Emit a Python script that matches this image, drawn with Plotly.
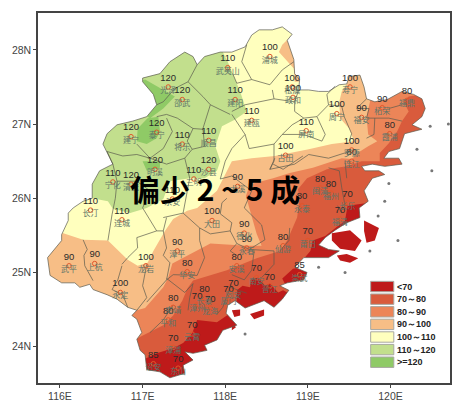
import plotly.graph_objects as go

# province outline, clockwise from the north-west corner
outline_lon = [117.00, 117.21, 117.33, 117.51, 117.61, 117.66, 117.75, 117.94, 118.08, 118.24, 118.32, 118.41, 118.57, 118.69, 118.81, 118.75, 118.83, 118.84, 118.90, 118.89, 119.01, 119.13, 119.25, 119.38, 119.47, 119.50, 119.63, 119.68, 119.71, 119.81, 119.96, 120.14, 120.28, 120.38, 120.42, 120.38, 120.26, 120.38, 120.17, 120.11, 119.98, 119.92, 120.10, 120.14, 119.93, 119.78, 119.65, 119.69, 119.86, 119.93, 119.78, 119.68, 119.73, 119.62, 119.63, 119.47, 119.33, 119.21, 119.13, 119.25, 119.38, 119.25, 119.05, 118.95, 118.84, 118.99, 118.95, 118.75, 118.66, 118.77, 118.69, 118.59, 118.47, 118.24, 118.12, 118.03, 118.01, 118.14, 117.97, 117.90, 117.75, 117.78, 117.61, 117.51, 117.61, 117.49, 117.51, 117.33, 117.21, 117.05, 117.03, 116.97, 116.93, 116.99, 116.93, 116.87, 116.93, 116.82, 116.69, 116.57, 116.40, 116.36, 116.24, 116.18, 116.02, 115.88, 115.85, 116.02, 116.02, 116.10, 116.10, 116.16, 116.28, 116.39, 116.39, 116.48, 116.64, 116.52, 116.57, 116.69, 116.88, 117.05, 117.17, 117.13, 117.00]
outline_lat = [27.62, 27.68, 27.84, 27.97, 27.91, 27.80, 27.91, 27.97, 27.97, 28.04, 28.20, 28.27, 28.27, 28.31, 28.21, 28.13, 27.87, 27.68, 27.60, 27.46, 27.46, 27.44, 27.44, 27.53, 27.54, 27.64, 27.66, 27.50, 27.34, 27.30, 27.33, 27.44, 27.40, 27.34, 27.21, 27.10, 26.99, 26.93, 26.87, 26.67, 26.63, 26.54, 26.54, 26.46, 26.43, 26.46, 26.43, 26.37, 26.37, 26.32, 26.27, 26.10, 25.96, 25.87, 25.74, 25.67, 25.57, 25.47, 25.37, 25.31, 25.29, 25.20, 25.20, 25.20, 25.07, 25.00, 24.90, 24.86, 24.82, 24.76, 24.64, 24.53, 24.62, 24.52, 24.62, 24.56, 24.45, 24.29, 24.22, 24.09, 24.02, 23.95, 23.91, 23.93, 23.82, 23.75, 23.64, 23.58, 23.66, 23.69, 23.89, 23.95, 24.10, 24.19, 24.37, 24.42, 24.49, 24.53, 24.64, 24.70, 24.77, 24.84, 24.80, 24.86, 24.86, 24.96, 25.20, 25.43, 25.51, 25.70, 25.80, 25.87, 25.96, 26.00, 26.19, 26.37, 26.46, 26.73, 26.87, 26.99, 27.04, 27.10, 27.26, 27.40, 27.57]

# rainfall bands, painted from wet to dry, outer edges get trimmed by the coast mask
band_110_lon = [117.97, 117.97, 118.03, 118.09, 118.18, 118.26, 118.12, 117.96, 117.88, 117.94, 117.90, 117.75, 117.57, 117.33, 117.25, 117.05, 116.85, 116.64, 116.58, 116.39, 116.15, 115.7, 115.7]
band_110_lat = [28.11, 27.97, 27.84, 27.68, 27.44, 27.17, 27.06, 26.97, 26.70, 26.50, 26.37, 26.27, 26.27, 26.23, 25.99, 25.87, 25.80, 25.86, 25.96, 26.00, 25.90, 25.90, 28.11]

band_120_lon = [117.03, 117.21, 117.39, 117.25, 117.09, 116.94, 116.94, None, 116.94, 117.06, 117.19, 117.21, 117.17, 117.05, 116.93, None, 117.00, 117.21, 117.21, 117.05]
band_120_lat = [27.60, 27.48, 27.37, 27.21, 27.08, 27.17, 27.57, None, 26.94, 27.08, 27.10, 26.90, 26.81, 26.73, 26.77, None, 26.50, 26.50, 26.41, 26.37]

band_90_lon = [118.81, 118.69, 118.65, 118.75, 118.83, 118.84, 118.96, 118.96, None, 119.47, 119.47, 119.41, 119.38, 119.39, 119.50, 119.56, 119.29, 119.01, 118.60, 118.32, 118.08, 117.90, 117.66, 117.54, 117.37, 117.27, 117.13, 117.06, 116.94, 116.82, 116.58, 116.28, 116.04, 115.7, 115.7, 120.7, 120.7]
band_90_lat = [28.20, 28.07, 27.97, 27.84, 27.75, 27.57, 27.57, 28.24, None, 27.84, 27.54, 27.44, 27.30, 27.08, 26.94, 26.77, 26.73, 26.66, 26.57, 26.54, 26.50, 26.10, 25.87, 25.83, 25.72, 25.56, 25.29, 25.13, 25.09, 25.17, 25.43, 25.44, 25.53, 25.53, 23.5, 23.5, 27.84]

band_80_lon = [119.78, 119.75, 119.71, 119.73, 119.84, 119.73, 119.63, 119.53, 119.41, 119.06, 118.78, 118.58, 118.30, 118.25, 118.32, 118.38, 118.44, 118.26, 117.82, 117.54, 117.36, 117.31, 117.25, 117.03, 116.93, 116.5, 116.5, 120.7, 120.7]
band_80_lat = [27.44, 27.30, 27.10, 26.86, 26.77, 26.70, 26.63, 26.53, 26.54, 26.41, 26.34, 26.27, 26.19, 26.03, 25.74, 25.52, 25.36, 25.36, 25.39, 25.23, 25.12, 24.93, 24.80, 24.52, 24.49, 24.49, 23.5, 23.5, 27.44]

band_70_lon = [116.93, 117.25, 117.37, 117.48, 117.54, 117.61, 118.02, 118.38, 118.66, 118.75, 118.87, 118.90, 118.88, 118.99, 119.23, 119.47, 119.65, 120.7, 120.7, 116.5, 116.5, None, 120.22, 120.60, 120.60, 119.87, 119.87, 119.98, 120.08, 120.14, 120.22, 120.16]
band_70_lat = [24.11, 24.29, 24.42, 24.62, 24.78, 24.89, 25.03, 25.19, 25.29, 25.43, 25.74, 26.00, 26.12, 26.27, 26.39, 26.43, 26.50, 26.50, 23.5, 23.5, 24.11, None, 27.37, 27.44, 26.50, 26.50, 26.61, 26.74, 26.90, 27.04, 27.17, 27.30]

band_low_lon = [116.85, 117.00, 117.17, 117.37, 117.49, 117.60, 117.66, 117.90, 118.06, 118.12, 118.24, 118.42, 118.42, 116.85, None, 118.14, 118.21, 118.30, 118.32, 118.40, 118.48, 118.54, 118.64, 118.70, 118.75, 118.72, 118.14, None, 118.69, 118.82, 119.03, 119.03, 118.72, None, 119.48, 119.87, 119.87, 118.91, 119.03, 119.06, 119.21, 119.33, 119.45, 119.47]
band_low_lat = [23.89, 23.82, 23.91, 23.98, 24.05, 24.18, 24.36, 24.33, 24.45, 24.49, 24.49, 24.22, 23.5, 23.5, None, 24.76, 24.82, 24.80, 24.92, 24.93, 24.82, 24.85, 24.73, 24.76, 24.73, 24.49, 24.49, None, 24.92, 25.05, 25.09, 24.76, 24.85, None, 25.90, 25.96, 25.03, 25.13, 25.29, 25.43, 25.49, 25.59, 25.70, 25.83]

island_lon = [119.68, 119.86, 119.81, 119.71, 119.68, None, 119.29, 119.51, 119.65, 119.57, 119.39, 119.29, None, 119.35, 119.47, 119.61, 119.51, 119.39, None, 118.30, 118.47, 118.47, 118.35, None, 118.08, 118.18, 118.18, 118.11, None, 118.08, 118.13, 118.08]
island_lat = [25.70, 25.60, 25.43, 25.40, 25.56, None, 25.53, 25.57, 25.43, 25.29, 25.32, 25.43, None, 25.23, 25.25, 25.19, 25.13, 25.16, None, 24.44, 24.50, 24.42, 24.37, None, 24.49, 24.50, 24.42, 24.40, None, 24.33, 24.26, 24.22]

islet_lon = [120.32, 120.70, 120.48, 120.50, 119.93, 119.98, 119.85, 119.45, 119.13, 118.24, 120.09, 119.75]
islet_lat = [26.66, 27.00, 26.97, 26.37, 25.96, 26.20, 25.76, 25.00, 25.07, 24.17, 25.43, 25.29]

county_lines = [
    [(117.66, 27.80), (117.55, 27.57), (117.73, 27.37), (117.82, 27.26), (118.06, 27.13)],
    [(117.82, 27.26), (117.73, 26.94)],
    [(117.55, 27.57), (117.39, 27.48), (117.25, 27.30), (117.17, 27.26)],
    [(117.17, 27.10), (117.29, 27.13), (117.42, 27.08), (117.61, 26.94), (117.73, 26.93)],
    [(116.93, 26.73), (117.09, 26.54), (117.25, 26.67), (117.36, 26.90), (117.29, 27.08)],
    [(116.64, 26.46), (116.57, 26.63), (116.76, 26.57), (116.93, 26.59), (117.09, 26.54)],
    [(117.09, 26.54), (117.29, 26.46), (117.51, 26.54), (117.60, 26.66), (117.54, 26.77), (117.61, 26.94)],
    [(116.64, 26.46), (116.69, 26.23), (116.67, 26.00), (116.63, 25.78), (116.58, 25.43)],
    [(117.00, 25.87), (117.17, 25.56), (116.93, 25.47), (116.94, 25.33), (116.82, 25.20), (116.75, 25.11)],
    [(116.28, 25.44), (116.33, 25.31), (116.29, 25.23), (116.30, 25.09), (116.40, 24.89)],
    [(116.75, 25.09), (116.70, 24.90), (116.63, 24.77), (116.76, 24.70), (116.82, 24.53)],
    [(117.05, 25.11), (117.00, 24.82), (117.05, 24.66), (116.93, 24.49)],
    [(117.17, 25.56), (117.25, 25.56), (117.29, 25.33), (117.25, 25.23), (117.33, 25.13), (117.29, 24.90), (117.05, 24.60)],
    [(117.29, 25.74), (117.25, 25.56)],
    [(117.25, 25.74), (117.49, 25.80), (117.69, 25.60), (117.69, 25.43), (117.75, 25.20), (117.66, 24.96), (117.37, 24.97), (117.29, 24.90)],
    [(117.69, 25.60), (117.82, 25.52), (118.06, 25.56), (118.08, 25.67), (117.94, 25.79), (117.96, 25.94), (118.02, 26.00)],
    [(118.06, 25.56), (118.14, 25.39), (118.06, 25.29), (118.14, 25.23)],
    [(118.58, 26.46), (118.70, 26.39), (118.94, 26.57)],
    [(118.26, 28.07), (118.20, 27.84), (118.32, 27.60), (118.54, 27.53), (118.69, 27.73), (118.83, 27.84)],
    [(118.32, 27.60), (118.14, 27.55), (118.09, 27.68)],
    [(118.57, 27.46), (118.59, 27.34), (118.84, 27.30), (118.89, 27.46)],
    [(118.59, 27.34), (118.41, 27.30), (118.24, 27.26), (118.08, 27.17)],
    [(118.84, 27.30), (118.84, 27.17), (118.95, 27.08), (118.81, 26.99), (118.69, 26.86), (118.59, 26.73), (118.59, 26.50), (118.54, 26.39)],
    [(118.95, 27.08), (119.11, 27.10), (119.25, 27.26), (119.23, 27.40), (119.33, 27.51)],
    [(119.11, 27.10), (119.21, 26.86), (119.17, 26.77), (118.95, 26.86), (118.69, 26.86)],
    [(119.25, 27.26), (119.41, 27.24), (119.44, 27.10), (119.53, 26.87), (119.50, 26.77)],
    [(119.71, 27.34), (119.59, 27.21), (119.74, 27.21), (119.71, 27.08), (119.81, 27.08), (119.80, 26.86), (119.71, 26.81)],
    [(119.81, 27.08), (119.98, 27.08), (120.14, 27.04)],
    [(119.98, 27.21), (120.14, 27.26)],
    [(118.08, 27.13), (118.24, 26.86), (118.29, 26.67), (118.59, 26.73)],
    [(118.24, 26.86), (118.08, 26.67)],
    [(118.60, 26.54), (118.54, 26.39), (118.84, 26.46), (119.01, 26.59), (119.25, 26.54), (119.50, 26.63)],
    [(119.25, 26.41), (119.38, 26.37), (119.41, 26.14), (119.45, 25.90)],
    [(119.45, 26.50), (119.47, 26.27)],
    [(119.36, 25.90), (119.41, 25.80)],
    [(117.29, 24.92), (117.51, 24.73), (117.61, 24.85), (117.57, 24.66), (117.55, 24.49)],
    [(117.91, 24.45), (117.97, 24.53), (118.06, 24.80), (118.26, 24.72)],
    [(117.37, 24.56), (117.25, 24.36), (117.09, 24.19)],
    [(118.44, 25.64), (118.48, 25.44), (118.29, 25.31), (118.59, 25.29), (118.59, 25.11), (118.44, 24.93)],
    [(118.35, 25.29), (118.32, 25.03), (118.23, 24.90), (118.08, 24.97)],
    [(118.14, 25.39), (118.29, 25.31)],
    [(118.44, 25.64), (118.23, 25.87), (118.32, 26.10), (118.08, 26.30), (117.94, 26.26), (118.00, 26.50), (118.08, 26.67)],
    [(118.78, 25.60), (118.77, 25.43), (118.66, 25.29)],
    [(117.73, 26.94), (117.75, 26.70), (117.60, 26.66)],
    [(117.51, 26.54), (117.57, 26.27), (117.49, 25.80)],
    [(117.00, 25.87), (117.09, 26.10), (116.93, 26.23), (116.69, 26.23)],
]

# stations
station_name = ["光泽", "邵武", "武夷山", "建阳", "浦城", "松溪", "政和", "寿宁", "周宁", "福安", "柘荣", "福鼎", "霞浦", "建瓯", "屏南", "古田", "罗源", "连江", "闽清", "福州", "长乐", "福清", "永泰", "莆田", "仙游", "德化", "永春", "南安", "安溪", "晋江", "崇武", "同安", "华安", "漳平", "大田", "长汀", "连城", "武平", "上杭", "永定", "龙岩", "南靖", "平和", "漳州", "龙海", "云霄", "漳浦", "诏安", "东山", "长泰", "厦门", "泰宁", "建宁", "将乐", "顺昌", "明溪", "沙县", "三明", "宁化", "清流", "永安", "尤溪"]
station_value = [120, 120, 110, 110, 100, 100, 100, 100, 100, 90, 90, 80, 80, 110, 110, 100, 100, 80, 80, 80, 70, 70, 80, 70, 80, 90, 90, 70, 80, 70, 85, 70, 80, 90, 100, 110, 110, 90, 90, 100, 100, 80, 80, 70, 70, 70, 70, 85, 70, 80, 70, 120, 120, 110, 110, 120, 120, 110, 110, 120, 110, 90]
station_lon = [117.31, 117.48, 118.03, 118.12, 118.54, 118.81, 118.82, 119.51, 119.35, 119.65, 119.90, 120.20, 119.99, 118.32, 118.98, 118.73, 119.53, 119.53, 119.15, 119.28, 119.48, 119.39, 118.93, 119.00, 118.70, 118.23, 118.26, 118.38, 118.14, 118.54, 118.90, 118.10, 117.54, 117.42, 117.84, 116.37, 116.75, 116.11, 116.42, 116.73, 117.04, 117.37, 117.31, 117.66, 117.82, 117.60, 117.37, 117.13, 117.43, 117.75, 118.04, 117.17, 116.86, 117.48, 117.80, 117.15, 117.80, 117.62, 116.64, 116.86, 117.36, 118.15]
station_lat = [27.50, 27.33, 27.76, 27.33, 27.91, 27.50, 27.36, 27.50, 27.14, 27.09, 27.22, 27.32, 26.87, 27.05, 26.91, 26.58, 26.65, 26.50, 26.14, 26.07, 25.94, 25.72, 25.90, 25.43, 25.36, 25.53, 25.33, 24.93, 25.09, 24.82, 24.97, 24.74, 25.01, 25.29, 25.70, 25.84, 25.71, 25.09, 25.12, 24.73, 25.09, 24.53, 24.36, 24.56, 24.52, 24.17, 23.99, 23.77, 23.71, 24.65, 24.65, 26.89, 26.83, 26.73, 26.78, 26.39, 26.39, 26.26, 26.22, 26.19, 25.99, 26.16]

legend_labels = ["<70", "70～80", "80～90", "90～100", "100～110", "110～120", ">=120"]
legend_colors = ["#BE1A1A", "#D95B3C", "#EC8558", "#F7BE86", "#FFFFBE", "#C2DF8D", "#8FCA66"]
lon_ticks = [116, 117, 118, 119, 120]
lat_ticks = [24, 25, 26, 27, 28]
lon_range = [115.734, 120.72]
lat_range = [23.51, 28.497]


def add_band(fig, lon, lat, color):
    fig.add_trace(go.Scatter(x=lon, y=lat, mode="lines", line=dict(width=0), fill="toself",
                             fillcolor=color, hoverinfo="skip"))


fig = go.Figure()
add_band(fig, outline_lon, outline_lat, legend_colors[4])
add_band(fig, band_110_lon, band_110_lat, legend_colors[5])
add_band(fig, band_120_lon, band_120_lat, legend_colors[6])
add_band(fig, band_90_lon, band_90_lat, legend_colors[3])
add_band(fig, band_80_lon, band_80_lat, legend_colors[2])
add_band(fig, band_70_lon, band_70_lat, legend_colors[1])
add_band(fig, band_low_lon, band_low_lat, legend_colors[0])

# white sheet with the province cut out, hides the band overshoot
x0, x1 = lon_range[0] - 0.1, lon_range[1] + 0.1
y0, y1 = lat_range[0] - 0.1, lat_range[1] + 0.1
mask_x = [x0, x0, x1, x1, x0] + outline_lon + [outline_lon[0], x0]
mask_y = [y1, y0, y0, y1, y1] + outline_lat + [outline_lat[0], y1]
add_band(fig, mask_x, mask_y, "white")
add_band(fig, island_lon, island_lat, legend_colors[0])

fig.add_trace(go.Scatter(x=islet_lon, y=islet_lat, mode="markers",
                         marker=dict(size=3, color="#777777"), hoverinfo="skip"))

# county borders and the province edge
county_x, county_y = [], []
for line in county_lines:
    county_x += [p[0] for p in line] + [None]
    county_y += [p[1] for p in line] + [None]
fig.add_trace(go.Scatter(x=county_x, y=county_y, mode="lines",
                         line=dict(color="#5A5A4E", width=0.7), hoverinfo="skip"))
fig.add_trace(go.Scatter(x=outline_lon + [outline_lon[0]], y=outline_lat + [outline_lat[0]], mode="lines",
                         line=dict(color="#5A5A4E", width=0.7), hoverinfo="skip"))

fig.add_trace(go.Scatter(x=station_lon, y=station_lat, mode="markers+text",
                         text=[str(v) for v in station_value], textposition="top center",
                         textfont=dict(family="Liberation Sans", size=9.5, color="#2A2A2A"),
                         marker=dict(size=4.5, color="rgba(0,0,0,0)", line=dict(color="#E2562A", width=1)),
                         hoverinfo="skip"))
fig.add_trace(go.Scatter(x=station_lon, y=station_lat, mode="text",
                         text=station_name, textposition="bottom center",
                         textfont=dict(family="Noto Sans CJK SC", size=8, color="#5E7468"),
                         hoverinfo="skip"))

# legend block, lower right
shapes = []
for i, (label, color) in enumerate(zip(legend_labels, legend_colors)):
    mid = 24.81 - i * 0.17
    shapes.append(dict(type="rect", xref="x", yref="y", x0=119.76, x1=120.04, y0=mid - 0.07, y1=mid + 0.07,
                       fillcolor=color, line=dict(color="#A8A8A0", width=1), layer="above"))
    fig.add_annotation(x=120.05, y=mid, text=label, showarrow=False, xanchor="left",
                       font=dict(family="Liberation Sans", size=9, color="#222222", weight="bold"))

fig.add_annotation(x=117.87, y=26.14, text="偏少 2 ~ 5 成", showarrow=False,
                   font=dict(family="Noto Sans CJK SC", size=30, color="black", weight="bold"))

fig.update_layout(width=463, height=414, margin=dict(l=38, r=13, t=11, b=31),
                  paper_bgcolor="white", plot_bgcolor="white", showlegend=False, shapes=shapes)
fig.update_xaxes(range=lon_range, tickvals=lon_ticks, ticktext=[f"{v}E" for v in lon_ticks],
                 showgrid=False, zeroline=False, showline=True, mirror=True, linecolor="#444444", linewidth=1.5,
                 ticks="outside", ticklen=3, tickcolor="#444444",
                 tickfont=dict(family="Liberation Sans", size=10.5, color="#444444"))
fig.update_yaxes(range=lat_range, tickvals=lat_ticks, ticktext=[f"{v}N" for v in lat_ticks],
                 showgrid=False, zeroline=False, showline=True, mirror=True, linecolor="#444444", linewidth=1.5,
                 ticks="outside", ticklen=3, tickcolor="#444444",
                 tickfont=dict(family="Liberation Sans", size=10.5, color="#444444"))

fig.write_html("out.html", config={"displayModeBar": False},
               post_script="document.body.style.margin='0';document.body.style.overflow='hidden';")
